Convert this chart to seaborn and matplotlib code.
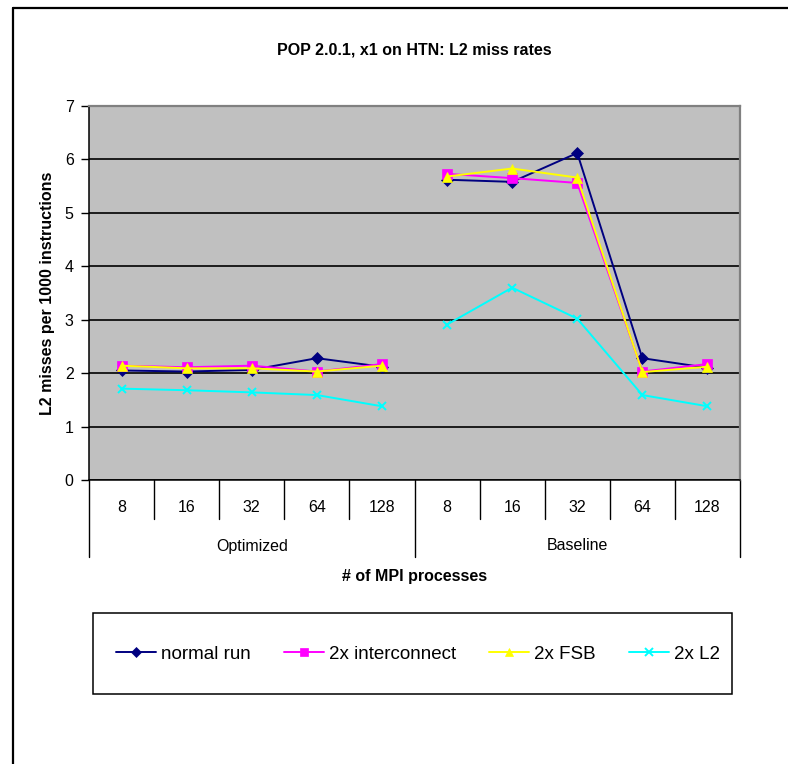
import matplotlib
matplotlib.use("Agg")
import matplotlib.pyplot as plt
from matplotlib.lines import Line2D
from matplotlib.patches import Rectangle
import seaborn as sns
import pandas as pd
import numpy as np

# ---- data ----
groups = ["Optimized", "Baseline"]
procs = ["8", "16", "32", "64", "128"]
series_names = ["normal run", "2x interconnect", "2x FSB", "2x L2"]

normal_run = [2.05, 2.03, 2.06, 2.28, 2.12, 5.62, 5.58, 6.12, 2.28, 2.10]
interconnect_2x = [2.14, 2.11, 2.14, 2.03, 2.17, 5.73, 5.65, 5.56, 2.03, 2.17]
fsb_2x = [2.14, 2.09, 2.09, 2.03, 2.14, 5.68, 5.83, 5.66, 2.02, 2.12]
l2_2x = [1.71, 1.68, 1.64, 1.59, 1.38, 2.91, 3.60, 3.02, 1.59, 1.38]

colors = ["#000080", "#FF00FF", "#FFFF00", "#00FFFF"]
markers = ["D", "s", "^", "x"]
msizes = [6.0, 6.5, 7.5, 6.0]

values = [normal_run, interconnect_2x, fsb_2x, l2_2x]

rows = []
for name, vals in zip(series_names, values):
    for i, v in enumerate(vals):
        rows.append({"series": name, "pos": i, "group": groups[i // 5],
                     "procs": procs[i % 5], "value": v})
df = pd.DataFrame(rows)

sns.set_style("white")
plt.rcParams["font.family"] = ["Liberation Sans", "DejaVu Sans"]
plt.rcParams["text.color"] = "black"
plt.rcParams["axes.labelcolor"] = "black"
plt.rcParams["xtick.color"] = "black"
plt.rcParams["ytick.color"] = "black"
plt.rcParams["legend.labelcolor"] = "black"

FS = 11.5
W, H = 788, 764
fig = plt.figure(figsize=(W / 100, H / 100), dpi=100)
L, R, T, B = 89, 740, 106, 480
ax = fig.add_axes([L / W, 1 - B / H, (R - L) / W, (B - T) / H])
ax.set_facecolor("#C0C0C0")

for name, c, m, ms in zip(series_names, colors, markers, msizes):
    for g in groups:
        sub = df[(df.series == name) & (df.group == g)]
        sns.lineplot(data=sub, x="pos", y="value", ax=ax, color=c, marker=m,
                     markersize=ms, markeredgecolor=c, markerfacecolor=c,
                     markeredgewidth=1.4 if m == "x" else 0.5,
                     linewidth=1.4, estimator=None, legend=False)

ax.set_xlim(-0.5, 9.5)
ax.set_ylim(0, 7)
ax.set_yticks(range(0, 8))
ax.yaxis.grid(True, color="black", linewidth=1.2)
ax.xaxis.grid(False)
ax.set_axisbelow(True)
ax.tick_params(axis="y", direction="out", length=6, width=1, color="black",
               labelcolor="black", labelsize=FS, pad=5, left=True)
ax.set_xticks([])
ax.set_xlabel("")
ax.set_ylabel("L2 misses per 1000 instructions", fontsize=FS, fontweight="bold",
              labelpad=7, color="black")
for s in ["top", "right"]:
    ax.spines[s].set_color("#808080")
    ax.spines[s].set_linewidth(1.6)
for s in ["left", "bottom"]:
    ax.spines[s].set_color("black")
    ax.spines[s].set_linewidth(1.1)

# category axis (two-level)
ah = B - T
trans = ax.get_xaxis_transform()
for i in range(10):
    ax.text(i, -28 / ah, procs[i % 5], transform=trans, ha="center", va="center",
            fontsize=FS, color="black")
for b in np.arange(-0.5, 10, 1.0):
    long = b in (-0.5, 4.5, 9.5)
    ax.add_line(Line2D([b, b], [0, -(77 if long else 39) / ah], transform=trans,
                       color="black", linewidth=1.0, clip_on=False))
for gi, g in enumerate(groups):
    ax.text(gi * 5 + 2, -66 / ah, g, transform=trans, ha="center", va="center",
            fontsize=FS, color="black")
ax.text(4.5, -97 / ah, "# of MPI processes", transform=trans, ha="center",
        va="center", fontsize=FS, fontweight="bold", color="black")

fig.text((L + R) / 2 / W, 1 - 50 / H, "POP 2.0.1, x1 on HTN: L2 miss rates",
         ha="center", va="center", fontsize=11.5, fontweight="bold", color="black")

# chart frame
fig.add_artist(Line2D([13 / W, 1.0], [1 - 8 / H, 1 - 8 / H], color="black",
                      linewidth=1.6, transform=fig.transFigure))
fig.add_artist(Line2D([13 / W, 13 / W], [0, 1 - 8 / H], color="black",
                      linewidth=1.6, transform=fig.transFigure))

# legend box
lx0, lx1, ly0, ly1 = 93, 732, 613, 694
fig.add_artist(Rectangle((lx0 / W, 1 - ly1 / H), (lx1 - lx0) / W, (ly1 - ly0) / H,
                         transform=fig.transFigure, facecolor="white",
                         edgecolor="black", linewidth=1.1))
handles = [Line2D([], [], color=c, marker=m, markersize=ms * 0.85, mec=c, mfc=c,
                  linewidth=1.4, markeredgewidth=1.4 if m == "x" else 0.5)
           for c, m, ms in zip(colors, markers, msizes)]
LFS = 13.5
fig.legend(handles, series_names, loc="center",
           bbox_to_anchor=(418 / W, 1 - 654 / H),
           ncol=4, frameon=False, fontsize=LFS, handlelength=2.13,
           handletextpad=0.27, columnspacing=1.76, borderpad=0, borderaxespad=0)

fig.savefig("out.png", dpi=100, facecolor="white")
